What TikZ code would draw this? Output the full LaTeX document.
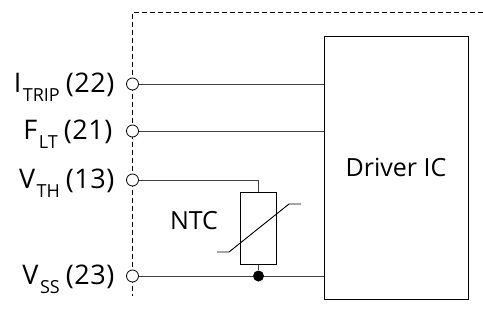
\documentclass[tikz,border=0pt]{standalone}
\usepackage{fontspec}
\setmainfont{Open Sans}
\usepackage{tikz}
\usetikzlibrary{positioning, calc}
\tikzset{
  pinmark/.style={circle, draw=black, fill=white, line width=0.8pt, minimum size=12pt, inner sep=0pt},
  pinlabel/.style={anchor=base east, font=\fontsize{27}{30}\selectfont, inner sep=0pt},
  wire/.style={draw=black!75, line width=1pt},
  partbox/.style={draw=black, line width=1pt, fill=none},
  bigtext/.style={font=\fontsize{25}{28}\selectfont, inner sep=0pt}
}
\newcommand{\subtxt}[1]{\kern1.5pt\raisebox{-9pt}{\fontsize{18}{20}\selectfont #1}}
\newcommand{\pinnum}[1]{{\addfontfeature{LetterSpace=2}#1}}

\begin{document}
\begin{tikzpicture}[x=1pt, y=-1pt]
\useasboundingbox (0,0) rectangle (483,322);
\fill[white] (0,0) rectangle (483,322);
% package outline
\coordinate (edgetop) at (132.5,12);
\coordinate (edgeright) at (483,12);
\coordinate (edgebottom) at (132.5,296);
\draw[line width=0.8pt, dash pattern=on 5pt off 3pt] (edgeright) -- (edgetop) -- (edgebottom);
% driver and thermistor
\node[partbox, minimum width=144pt, minimum height=263pt, inner sep=0pt] (driver) at (396,167.5) {};
\node[bigtext] at (driver.center) {Driver IC};
\node[partbox, minimum width=36pt, minimum height=72pt, inner sep=0pt] (ntc) at (258.5,228) {};
\node[bigtext, anchor=center] (ntclabel) at (194,221) {NTC};
% pins
\node[pinmark] (itrip) at (132.5,84) {};
\node[pinmark] (flt) at (132.5,131) {};
\node[pinmark] (vth) at (132.5,180) {};
\node[pinmark] (vss) at (132.5,276) {};
\node[pinlabel] at (114.5,92) {I\subtxt{TRIP}\kern6pt\pinnum{(22)}};
\node[pinlabel] at (112.5,139) {F\subtxt{LT}\kern6pt\pinnum{(21)}};
\node[pinlabel] at (114.5,188) {V\subtxt{TH}\kern6pt\pinnum{(13)}};
\node[pinlabel] at (114.5,284) {V\subtxt{SS}\kern6pt\pinnum{(23)}};
% wires
\draw[wire] (itrip) -- (itrip -| driver.west);
\draw[wire] (flt) -- (flt -| driver.west);
\draw[wire] (vss) -- (vss -| driver.west);
\draw[wire] (vth) -| (ntc.north);
\node[circle, fill=black, minimum size=11pt, inner sep=0pt] (joint) at (ntc.south |- vss) {};
\draw[wire] (ntc.south) -- (joint);
% thermistor slash
\coordinate (slashlow) at (217,252);
\coordinate (slashbend) at (229,252);
\coordinate (slashhigh) at (289,204);
\coordinate (slashend) at (301,204);
\draw[line width=0.9pt] (slashlow) -- (slashbend) -- (slashhigh) -- (slashend);
\end{tikzpicture}
\end{document}
